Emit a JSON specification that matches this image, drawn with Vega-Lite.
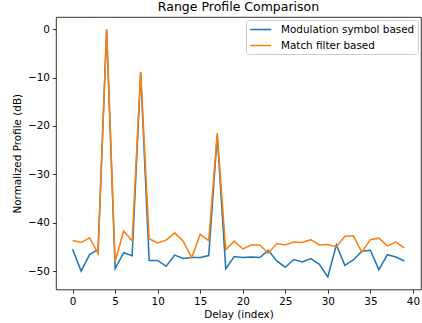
{
  "$schema": "https://vega.github.io/schema/vega-lite/v6.json",
  "width": 365,
  "height": 272.5,
  "autosize": {"type": "none"},
  "padding": {"left": 56, "top": 17, "right": 1, "bottom": 33.5},
  "background": "white",
  "config": {
    "font": "DejaVu Sans",
    "view": {"stroke": "black", "strokeWidth": 0.8},
    "axis": {
      "domain": false, "grid": false, "tickColor": "black", "tickWidth": 0.8, "tickSize": 3.6,
      "labelFontSize": 10.4, "labelColor": "black", "labelPadding": 3, "titleFontSize": 10.4,
      "titleFontWeight": "normal", "titleColor": "black", "labelFont": "DejaVu Sans", "titleFont": "DejaVu Sans"
    },
    "title": {"font": "DejaVu Sans", "fontSize": 12.5, "fontWeight": "normal", "color": "black"}
  },
  "title": {"text": "Range Profile Comparison", "anchor": "middle", "offset": 4},
  "data": {"values": [
    {"x":0,"v":-45.5,"s":"Modulation symbol based"},{"x":1,"v":-50.0,"s":"Modulation symbol based"},{"x":2,"v":-46.6,"s":"Modulation symbol based"},{"x":3,"v":-45.5,"s":"Modulation symbol based"},{"x":4,"v":-0.2,"s":"Modulation symbol based"},{"x":5,"v":-49.5,"s":"Modulation symbol based"},{"x":6,"v":-46.2,"s":"Modulation symbol based"},{"x":7,"v":-46.8,"s":"Modulation symbol based"},{"x":8,"v":-9.0,"s":"Modulation symbol based"},{"x":9,"v":-47.8,"s":"Modulation symbol based"},
    {"x":10,"v":-47.8,"s":"Modulation symbol based"},{"x":11,"v":-49.0,"s":"Modulation symbol based"},{"x":12,"v":-46.7,"s":"Modulation symbol based"},{"x":13,"v":-47.4,"s":"Modulation symbol based"},{"x":14,"v":-47.2,"s":"Modulation symbol based"},{"x":15,"v":-47.2,"s":"Modulation symbol based"},{"x":16,"v":-46.8,"s":"Modulation symbol based"},{"x":17,"v":-22.0,"s":"Modulation symbol based"},{"x":18,"v":-49.5,"s":"Modulation symbol based"},{"x":19,"v":-47.0,"s":"Modulation symbol based"},
    {"x":20,"v":-47.2,"s":"Modulation symbol based"},{"x":21,"v":-47.1,"s":"Modulation symbol based"},{"x":22,"v":-47.2,"s":"Modulation symbol based"},{"x":23,"v":-45.7,"s":"Modulation symbol based"},{"x":24,"v":-47.9,"s":"Modulation symbol based"},{"x":25,"v":-49.2,"s":"Modulation symbol based"},{"x":26,"v":-47.6,"s":"Modulation symbol based"},{"x":27,"v":-48.1,"s":"Modulation symbol based"},{"x":28,"v":-47.4,"s":"Modulation symbol based"},{"x":29,"v":-48.6,"s":"Modulation symbol based"},
    {"x":30,"v":-51.2,"s":"Modulation symbol based"},{"x":31,"v":-44.6,"s":"Modulation symbol based"},{"x":32,"v":-48.8,"s":"Modulation symbol based"},{"x":33,"v":-47.7,"s":"Modulation symbol based"},{"x":34,"v":-45.9,"s":"Modulation symbol based"},{"x":35,"v":-45.7,"s":"Modulation symbol based"},{"x":36,"v":-49.7,"s":"Modulation symbol based"},{"x":37,"v":-46.6,"s":"Modulation symbol based"},{"x":38,"v":-47.1,"s":"Modulation symbol based"},{"x":39,"v":-47.9,"s":"Modulation symbol based"},
    {"x":0,"v":-43.7,"s":"Match filter based"},{"x":1,"v":-44.1,"s":"Match filter based"},{"x":2,"v":-43.1,"s":"Match filter based"},{"x":3,"v":-46.4,"s":"Match filter based"},{"x":4,"v":0,"s":"Match filter based"},{"x":5,"v":-48.0,"s":"Match filter based"},{"x":6,"v":-41.7,"s":"Match filter based"},{"x":7,"v":-43.8,"s":"Match filter based"},{"x":8,"v":-8.8,"s":"Match filter based"},{"x":9,"v":-43.3,"s":"Match filter based"},
    {"x":10,"v":-44.2,"s":"Match filter based"},{"x":11,"v":-43.6,"s":"Match filter based"},{"x":12,"v":-42.1,"s":"Match filter based"},{"x":13,"v":-43.8,"s":"Match filter based"},{"x":14,"v":-47.2,"s":"Match filter based"},{"x":15,"v":-42.4,"s":"Match filter based"},{"x":16,"v":-43.7,"s":"Match filter based"},{"x":17,"v":-21.5,"s":"Match filter based"},{"x":18,"v":-45.6,"s":"Match filter based"},{"x":19,"v":-43.8,"s":"Match filter based"},
    {"x":20,"v":-45.4,"s":"Match filter based"},{"x":21,"v":-44.6,"s":"Match filter based"},{"x":22,"v":-44.6,"s":"Match filter based"},{"x":23,"v":-46.3,"s":"Match filter based"},{"x":24,"v":-44.3,"s":"Match filter based"},{"x":25,"v":-44.6,"s":"Match filter based"},{"x":26,"v":-44.0,"s":"Match filter based"},{"x":27,"v":-44.1,"s":"Match filter based"},{"x":28,"v":-43.5,"s":"Match filter based"},{"x":29,"v":-44.6,"s":"Match filter based"},
    {"x":30,"v":-44.5,"s":"Match filter based"},{"x":31,"v":-45.0,"s":"Match filter based"},{"x":32,"v":-42.8,"s":"Match filter based"},{"x":33,"v":-42.7,"s":"Match filter based"},{"x":34,"v":-46.1,"s":"Match filter based"},{"x":35,"v":-43.5,"s":"Match filter based"},{"x":36,"v":-43.2,"s":"Match filter based"},{"x":37,"v":-44.8,"s":"Match filter based"},{"x":38,"v":-44.0,"s":"Match filter based"},{"x":39,"v":-45.2,"s":"Match filter based"}
  ]},
  "mark": {"type": "line", "strokeWidth": 1.55, "clip": true},
  "encoding": {
    "x": {"field": "x", "type": "quantitative", "title": "Delay (index)",
      "scale": {"domain": [-1.95, 40.95], "nice": false, "zero": false},
      "axis": {"values": [0,5,10,15,20,25,30,35,40], "titlePadding": 3}},
    "y": {"field": "v", "type": "quantitative", "title": "Normalized Profile (dB)",
      "scale": {"domain": [-53.8, 2.5], "nice": false, "zero": false},
      "axis": {"values": [-50,-40,-30,-20,-10,0], "titlePadding": 5}},
    "color": {"field": "s", "type": "nominal",
      "scale": {"domain": ["Modulation symbol based", "Match filter based"], "range": ["#1f77b4", "#ff7f0e"]},
      "legend": {"title": null, "orient": "top-right", "offset": 3, "symbolType": "M -1 0 L 3 0", "symbolSize": 110,
        "symbolStrokeWidth": 1.55, "labelFontSize": 10.4, "labelColor": "black", "labelFont": "DejaVu Sans",
        "strokeColor": "#cccccc", "fillColor": "white", "cornerRadius": 3, "padding": 3, "rowPadding": 4, "labelOffset": 19}}
  }
}
